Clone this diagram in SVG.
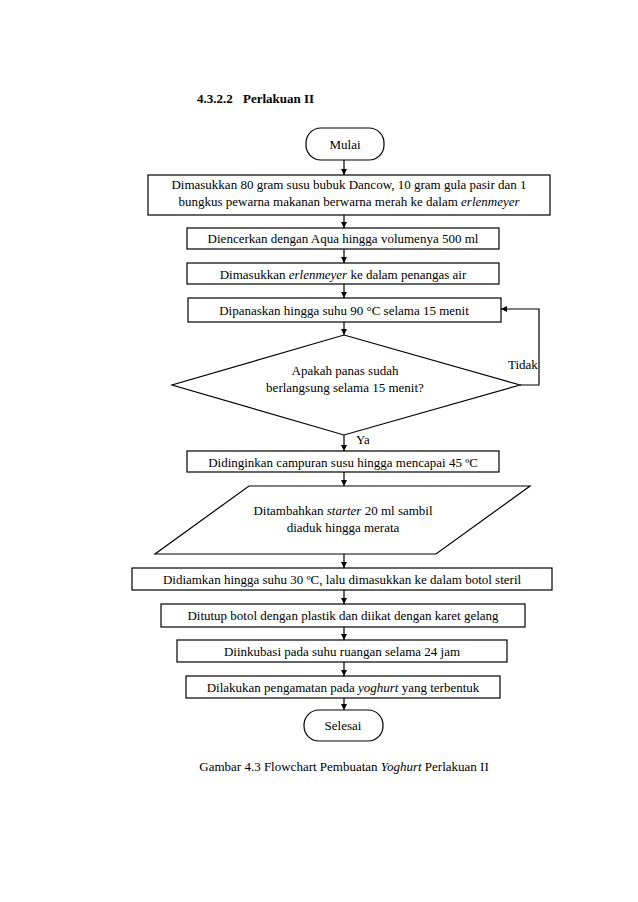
<svg xmlns="http://www.w3.org/2000/svg" width="638" height="902" viewBox="0 0 638 902">
<defs>
<style>
text{font-family:"Liberation Serif","Times New Roman",serif;font-size:13px;fill:#000;}
.c{text-anchor:middle;}
.b{fill:#fff;stroke:#000;stroke-width:1.2;}
.l{fill:none;stroke:#000;stroke-width:1.2;}
.i{font-style:italic;}
.t{font-weight:bold;}
</style>
<marker id="ah" viewBox="0 0 10 10" refX="10" refY="5" markerWidth="6" markerHeight="6" markerUnits="userSpaceOnUse" orient="auto">
<path d="M0,0 L10,5 L0,10 z" fill="#000"/>
</marker>
</defs>
<rect width="638" height="902" fill="#fff"/>
<text class="t" x="197" y="103">4.3.2.2</text>
<text class="t" x="243" y="103">Perlakuan II</text>

<g id="connectors">
<line class="l" x1="344" y1="160" x2="344" y2="175" marker-end="url(#ah)"/>
<line class="l" x1="344" y1="215" x2="344" y2="228" marker-end="url(#ah)"/>
<line class="l" x1="344" y1="249" x2="344" y2="263" marker-end="url(#ah)"/>
<line class="l" x1="344" y1="284" x2="344" y2="298" marker-end="url(#ah)"/>
<line class="l" x1="344" y1="322" x2="344" y2="335" marker-end="url(#ah)"/>
<polyline class="l" points="520,385 539,385 539,309 501,309" marker-end="url(#ah)"/>
<line class="l" x1="344" y1="435" x2="344" y2="451" marker-end="url(#ah)"/>
<line class="l" x1="344" y1="472" x2="344" y2="486" marker-end="url(#ah)"/>
<line class="l" x1="344" y1="554" x2="344" y2="568" marker-end="url(#ah)"/>
<line class="l" x1="344" y1="590" x2="344" y2="604" marker-end="url(#ah)"/>
<line class="l" x1="344" y1="627" x2="344" y2="640" marker-end="url(#ah)"/>
<line class="l" x1="344" y1="662" x2="344" y2="676" marker-end="url(#ah)"/>
<line class="l" x1="344" y1="698" x2="344" y2="710" marker-end="url(#ah)"/>
<text x="508" y="369">Tidak</text>
<text x="356" y="444">Ya</text>
</g>

<g id="mulai">
<rect class="b" x="306" y="128" width="78" height="32" rx="15" ry="15"/>
<text class="c" x="345" y="148.5">Mulai</text>
</g>
<g id="step1">
<rect class="b" x="148" y="175" width="402" height="40"/>
<text class="c" x="349" y="189">Dimasukkan 80 gram susu bubuk Dancow, 10 gram gula pasir dan 1</text>
<text class="c" x="349" y="206">bungkus pewarna makanan berwarna merah ke dalam <tspan class="i">erlenmeyer</tspan></text>
</g>
<g id="step2">
<rect class="b" x="187" y="228" width="312" height="21"/>
<text class="c" x="343" y="243">Diencerkan dengan Aqua hingga volumenya 500 ml</text>
</g>
<g id="step3">
<rect class="b" x="187" y="263" width="312" height="21"/>
<text class="c" x="343" y="278.5">Dimasukkan <tspan class="i">erlenmeyer</tspan> ke dalam penangas air</text>
</g>
<g id="step4">
<rect class="b" x="188" y="298" width="313" height="24"/>
<text class="c" x="344" y="314.5">Dipanaskan hingga suhu 90 °C selama 15 menit</text>
</g>
<g id="decision">
<polygon class="b" points="344,335 520,385 344,435 172,385"/>
<text class="c" x="345" y="375">Apakah panas sudah</text>
<text class="c" x="345" y="392">berlangsung selama 15 menit?</text>
</g>
<g id="step5">
<rect class="b" x="187" y="451" width="312" height="21"/>
<text class="c" x="343" y="466.5">Didinginkan campuran susu hingga mencapai 45 ºC</text>
</g>
<g id="step6">
<polygon class="b" points="249,486 530,486 436,554 155,554"/>
<text class="c" x="343" y="515">Ditambahkan <tspan class="i">starter</tspan> 20 ml sambil</text>
<text class="c" x="343" y="532">diaduk hingga merata</text>
</g>
<g id="step7">
<rect class="b" x="132" y="568" width="420" height="22"/>
<text class="c" x="342" y="583.5">Didiamkan hingga suhu 30 ºC, lalu dimasukkan ke dalam botol steril</text>
</g>
<g id="step8">
<rect class="b" x="161" y="604" width="364" height="23"/>
<text class="c" x="343" y="620">Ditutup botol dengan plastik dan diikat dengan karet gelang</text>
</g>
<g id="step9">
<rect class="b" x="177" y="640" width="330" height="22"/>
<text class="c" x="342" y="655.5">Diinkubasi pada suhu ruangan selama 24 jam</text>
</g>
<g id="step10">
<rect class="b" x="186" y="676" width="314" height="22"/>
<text class="c" x="343" y="691.5">Dilakukan pengamatan pada <tspan class="i">yoghurt</tspan> yang terbentuk</text>
</g>
<g id="selesai">
<rect class="b" x="304" y="710" width="79" height="31" rx="15" ry="15"/>
<text class="c" x="343" y="729.5">Selesai</text>
</g>
<text class="c" x="344" y="771">Gambar 4.3 Flowchart Pembuatan <tspan class="i">Yoghurt</tspan> Perlakuan II</text>
</svg>
